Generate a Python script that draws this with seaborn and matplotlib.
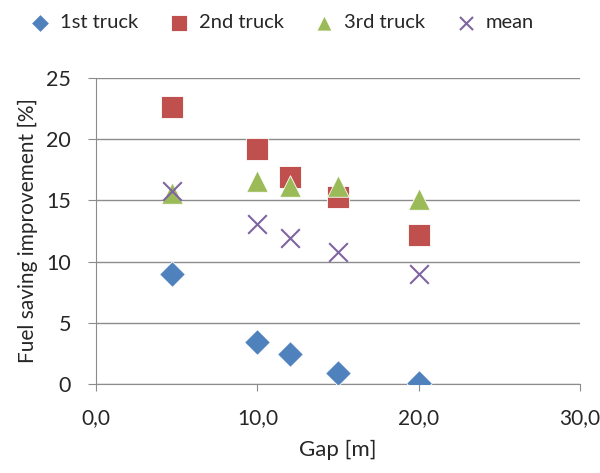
import pandas as pd
import numpy as np
import matplotlib
matplotlib.use('Agg')
import matplotlib.pyplot as plt
import seaborn as sns

# Data
gap = [4.7, 10, 12, 15, 20]
truck1 = [9.0, 3.4, 2.45, 0.9, 0.05]
truck2 = [22.6, 19.2, 16.9, 15.3, 12.2]
truck3 = [15.6, 16.6, 16.2, 16.2, 15.1]
mean = [15.8, 13.1, 11.9, 10.8, 9.0]

series_names = ['1st truck', '2nd truck', '3rd truck', 'mean']

df = pd.DataFrame({'gap': gap, '1st truck': truck1, '2nd truck': truck2,
                   '3rd truck': truck3, 'mean': mean})
long_df = df.melt(id_vars='gap', var_name='series', value_name='value')

sns.set_style('white')
plt.rcParams['font.family'] = ['Lato', 'DejaVu Sans']

fig = plt.figure(figsize=(6, 4.73), dpi=100)
ax = fig.add_axes([0.16, 0.188, 0.807, 0.647])

styles = {
    '1st truck': dict(marker='D', color='#4F81BD', s=170),
    '2nd truck': dict(marker='s', color='#C0504D', s=240),
    '3rd truck': dict(marker='^', color='#9BBB59', s=240),
    'mean': dict(marker='x', color='#8064A2', s=180),
}

for name in series_names:
    st = styles[name]
    sub = long_df[long_df['series'] == name]
    sns.scatterplot(data=sub, x='gap', y='value', ax=ax, label=name,
                    marker=st['marker'], color=st['color'], s=st['s'],
                    edgecolor='white' if st['marker'] != 'x' else None,
                    linewidth=0.6 if st['marker'] != 'x' else 1.5, zorder=3)

ax.set_xlim(0, 30)
ax.set_ylim(0, 25)
ax.set_xticks([0, 10, 20, 30])
ax.set_xticklabels(['0,0', '10,0', '20,0', '30,0'])
ax.set_yticks([0, 5, 10, 15, 20, 25])
ax.yaxis.grid(True, color='#8c8c8c', linewidth=1)
ax.set_axisbelow(True)
for side in ['top', 'right']:
    ax.spines[side].set_visible(False)
for side in ['left', 'bottom']:
    ax.spines[side].set_color('#8c8c8c')
ax.tick_params(axis='x', bottom=True, length=5, color='#8c8c8c', labelsize=15,
               pad=12, labelcolor='#262626')
ax.tick_params(axis='y', left=True, length=6, color='#8c8c8c', labelsize=15.5,
               pad=12, labelcolor='#262626')
ax.set_xlabel('Gap [m]', fontsize=16, labelpad=9, color='#262626')
ax.set_ylabel('Fuel saving improvement [%]', fontsize=15, labelpad=6, color='#262626')

handles, labels = ax.get_legend_handles_labels()
ax.legend(handles, labels, loc='center', bbox_to_anchor=(0.462, 0.952),
          bbox_transform=fig.transFigure, ncol=4, frameon=False,
          fontsize=14.5, handletextpad=0.0, columnspacing=1.0, markerscale=0.7)

fig.savefig('out.png', dpi=100)
